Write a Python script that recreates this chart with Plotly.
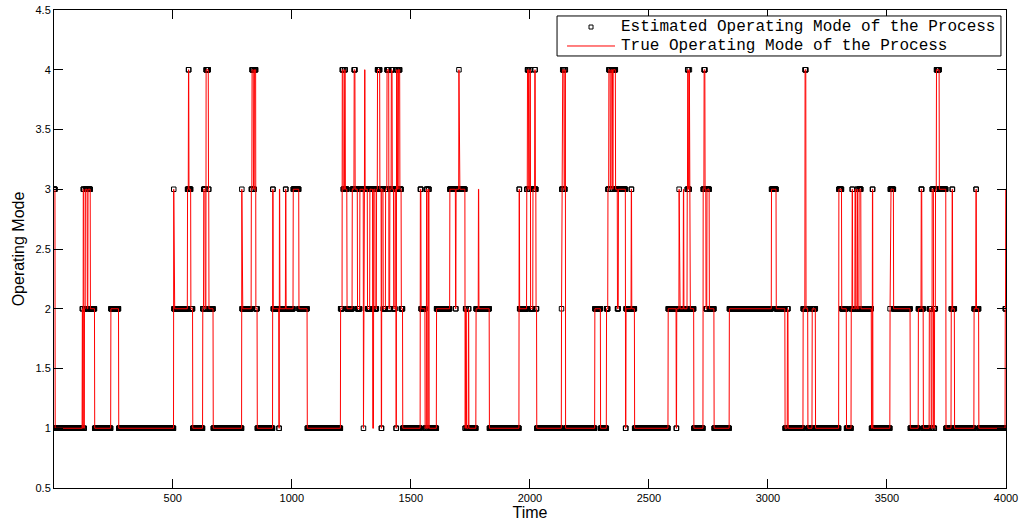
import numpy as np
import plotly.graph_objects as go

# Operating mode of the process as a sequence of regimes:
# each regime starts at `change_time` and holds `true_mode` until the next change.
change_time = [
    1, 6, 120, 122, 124, 127, 129, 133, 141, 144, 154, 172, 240, 273,
    504, 505, 562, 566, 568, 576, 584, 626, 630, 636, 640, 650, 652, 670,
    790, 791, 830, 833, 839, 843, 849, 855, 920, 922, 946, 948, 950, 974, 976,
    1006, 1030, 1065, 1205, 1212, 1216, 1222, 1225, 1232, 1254, 1262, 1266,
    1276, 1286, 1301, 1302, 1306, 1308, 1318, 1328, 1340, 1344, 1350, 1356,
    1360, 1370, 1376, 1378, 1384, 1394, 1400, 1408, 1412, 1418, 1422, 1428,
    1434, 1438, 1440, 1444, 1448, 1454, 1460, 1466, 1540, 1543, 1560, 1566,
    1569, 1574, 1577, 1608, 1664, 1688, 1690, 1702, 1703, 1728, 1730, 1734,
    1742, 1744, 1774, 1784, 1786, 1830, 1955, 1957, 1987, 1990, 1995, 2000,
    2003, 2013, 2021, 2023, 2026, 2029, 2133, 2134, 2138, 2144, 2148, 2150,
    2273, 2297, 2322, 2328, 2332, 2338, 2342, 2348, 2350, 2360, 2368, 2372,
    2402, 2404, 2426, 2428, 2440, 2581, 2615, 2617, 2627, 2628, 2645, 2647,
    2661, 2663, 2666, 2670, 2671, 2689, 2728, 2732, 2736, 2740, 2744, 2754,
    2774, 2838, 3015, 3035, 3072, 3082, 3085, 3148, 3156, 3160, 3168, 3186,
    3200, 3298, 3310, 3330, 3350, 3354, 3356, 3366, 3369, 3375, 3377, 3383,
    3391, 3435, 3439, 3441, 3513, 3514, 3528, 3598, 3632, 3644, 3647, 3653,
    3678, 3686, 3690, 3696, 3700, 3704, 3708, 3720, 3748, 3770, 3774, 3776,
    3784, 3866, 3874, 3876, 3886, 3997, 3999,
]
true_mode = [
    3, 1, 2, 1, 3, 1, 2, 3, 2, 3, 2, 1, 2, 1,
    3, 2, 3, 4, 3, 2, 1, 2, 3, 2, 4, 3, 2, 1,
    3, 2, 3, 4, 3, 4, 2, 1, 3, 2, 1, 3, 2, 3, 2,
    3, 2, 1, 2, 4, 3, 4, 3, 2, 3, 4, 3,
    2, 3, 1, 3, 4, 3, 2, 3, 1, 3, 2, 3,
    4, 3, 1, 3, 2, 3, 4, 2, 3, 4, 3, 2,
    3, 1, 4, 3, 4, 3, 2, 1, 3, 2, 1, 3,
    1, 3, 1, 2, 3, 2, 3, 4, 3, 1, 2, 1,
    2, 1, 2, 3, 2, 1, 3, 2, 3, 4, 3, 4,
    2, 3, 4, 3, 2, 1, 2, 3, 4, 3, 4, 1,
    2, 1, 2, 3, 4, 3, 4, 3, 4, 3, 2, 3,
    1, 2, 3, 2, 1, 2, 1, 2, 3, 2, 3, 2,
    3, 4, 3, 4, 2, 1, 3, 4, 3, 2, 3, 2,
    1, 2, 3, 2, 1, 2, 1, 2, 4, 2, 1, 2,
    1, 3, 2, 1, 2, 3, 2, 3, 2, 3, 2, 3,
    2, 1, 3, 1, 2, 3, 2, 1, 2, 3, 2, 1,
    2, 1, 3, 1, 2, 3, 4, 3, 1, 2, 3, 2,
    1, 2, 3, 2, 1, 2, 3,
]

# Regimes in which the estimator reported a different mode
est_change_time = [948, 1306, 1340, 1784, 2645, 3366, 3999]
est_mode = [2, 3, 2, 2, 2, 2, 2]

n_samples = 4000

legend_labels = ["Estimated Operating Mode of the Process",
                 "True Operating Mode of the Process"]

# Expand the regimes into per-sample series
time = np.arange(1, n_samples + 1)
bounds = list(change_time) + [n_samples + 1]
true_series = np.empty(n_samples)
est_series = np.empty(n_samples)
est_lookup = dict(zip(est_change_time, est_mode))
for i, start in enumerate(change_time):
    stop = bounds[i + 1]
    true_series[start - 1:stop - 1] = true_mode[i]
    est_series[start - 1:stop - 1] = est_lookup.get(start, true_mode[i])

fig = go.Figure()
fig.add_trace(go.Scatter(
    x=time, y=est_series, mode="markers",
    name=legend_labels[0], showlegend=False,
    marker=dict(symbol="square-open", size=4.5, color="black",
                line=dict(width=1, color="black")),
))
fig.add_trace(go.Scatter(
    x=time, y=true_series, mode="lines",
    name=legend_labels[1], showlegend=False,
    line=dict(color="red", width=1),
))

x_ticks = [500, 1000, 1500, 2000, 2500, 3000, 3500, 4000]
y_ticks = [0.5, 1, 1.5, 2, 2.5, 3, 3.5, 4, 4.5]
y_tick_text = ["0.5", "1", "1.5", "2", "2.5", "3", "3.5", "4", "4.5"]

axis_common = dict(
    showline=True, linecolor="black", linewidth=1, mirror="allticks",
    ticks="inside", ticklen=9, tickcolor="black", tickwidth=1,
    showgrid=False, zeroline=False, automargin=False,
    tickfont=dict(family="Liberation Sans, Arial, sans-serif", size=11, color="black"),
)
title_font = dict(family="Liberation Sans, Arial, sans-serif", size=16, color="black")

# Boxed legend in the upper right, drawn in paper coordinates
legend_font = dict(family="Courier New, Liberation Mono, monospace", size=16, color="black")
row1_y, row2_y = 0.9644, 0.9247
shapes = [
    dict(type="rect", xref="paper", yref="paper",
         x0=0.5284, x1=0.9947, y0=0.9038, y1=0.9875,
         line=dict(color="black", width=1), fillcolor="white", layer="above"),
    dict(type="rect", xref="paper", yref="paper",
         xsizemode="pixel", ysizemode="pixel",
         xanchor=0.5641, yanchor=row1_y, x0=-2, x1=2, y0=-2, y1=2,
         line=dict(color="black", width=1), fillcolor="white", layer="above"),
    dict(type="line", xref="paper", yref="paper",
         x0=0.5389, x1=0.5893, y0=row2_y, y1=row2_y,
         line=dict(color="red", width=1), layer="above"),
]
annotations = [
    dict(text=legend_labels[0], xref="paper", yref="paper", x=0.5945, y=row1_y,
         xanchor="left", yanchor="middle", showarrow=False, font=legend_font,
         borderpad=0),
    dict(text=legend_labels[1], xref="paper", yref="paper", x=0.5945, y=row2_y,
         xanchor="left", yanchor="middle", showarrow=False, font=legend_font,
         borderpad=0),
]

fig.update_layout(
    width=1025, height=527,
    margin=dict(l=54, r=19, t=10, b=39),
    paper_bgcolor="white", plot_bgcolor="white",
    showlegend=False,
    shapes=shapes, annotations=annotations,
    xaxis=dict(
        range=[1, 4000], tickvals=x_ticks,
        title=dict(text="Time", standoff=2, font=title_font),
        **axis_common,
    ),
    yaxis=dict(
        range=[0.5, 4.5], tickvals=y_ticks, ticktext=y_tick_text,
        title=dict(text="Operating Mode", standoff=6, font=title_font),
        **axis_common,
    ),
)

fig.write_html("out.html")
